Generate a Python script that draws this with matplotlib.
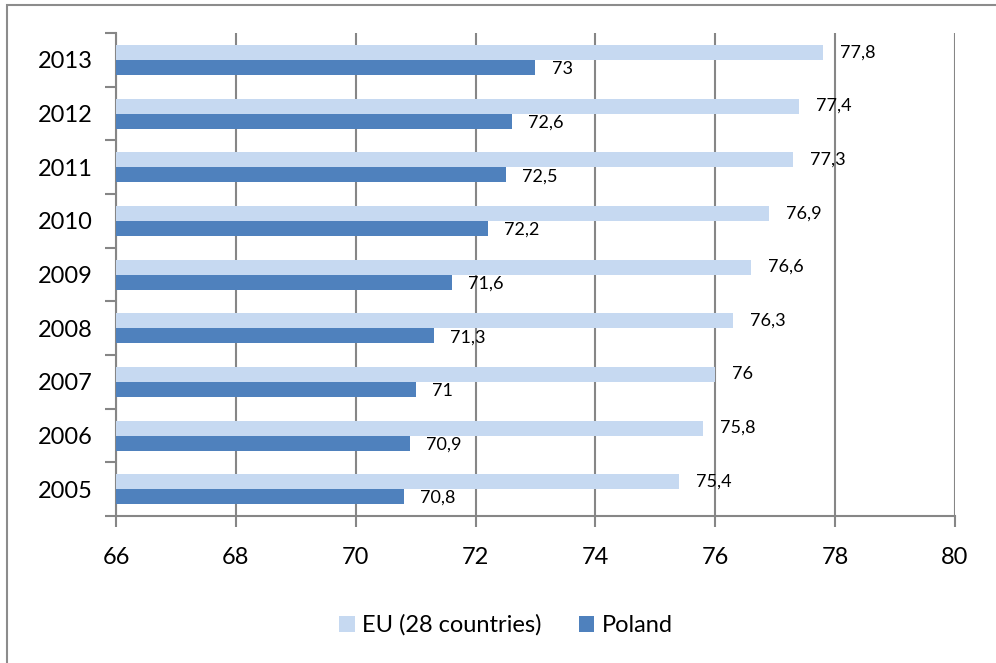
import matplotlib
matplotlib.use("Agg")
import matplotlib.pyplot as plt
from matplotlib.patches import Rectangle
import numpy as np

years = ["2005", "2006", "2007", "2008", "2009", "2010", "2011", "2012", "2013"]
eu_values = [75.4, 75.8, 76.0, 76.3, 76.6, 76.9, 77.3, 77.4, 77.8]
poland_values = [70.8, 70.9, 71.0, 71.3, 71.6, 72.2, 72.5, 72.6, 73.0]
x_ticks = [66, 68, 70, 72, 74, 76, 78, 80]

eu_color = "#C6D9F1"
pl_color = "#4F81BD"
grid_color = "#868686"

plt.rcParams["font.family"] = ["Lato", "DejaVu Sans"]

fig = plt.figure(figsize=(9.96, 6.63), dpi=100)
ax = fig.add_axes([0.1165, 0.2217, 0.8423, 0.7283])

# outer frame of the chart (only its top and left edges fall inside the image)
fig.patches.append(Rectangle((0.007, -0.2), 1.2, 1.192, transform=fig.transFigure,
                             fill=False, edgecolor="#8C8C8C", linewidth=1.5))

y = np.arange(len(years))
h = 0.28
base = 66


def fmt(v):
    s = f"{v:.1f}".replace(".", ",")
    return s[:-2] if s.endswith(",0") else s


eu_bars = ax.barh(y + h / 2, np.array(eu_values) - base, left=base, height=h,
                  color=eu_color, label="EU (28 countries)", zorder=3)
pl_bars = ax.barh(y - h / 2, np.array(poland_values) - base, left=base, height=h,
                  color=pl_color, label="Poland", zorder=3)

for yy, v in zip(y + h / 2, eu_values):
    ax.annotate(fmt(v), (v, yy), xytext=(12, 0), textcoords="offset points",
                va="center", ha="left", fontsize=13, color="black", zorder=4)
for yy, v in zip(y - h / 2, poland_values):
    ax.annotate(fmt(v), (v, yy), xytext=(12, -1), textcoords="offset points",
                va="center", ha="left", fontsize=13, color="black", zorder=4)

ax.set_xlim(66, 80)
ax.set_ylim(-0.5, len(years) - 0.5)
ax.set_xticks(x_ticks)
ax.set_xticklabels([str(t) for t in x_ticks], fontsize=17)
ax.set_yticks(y)
ax.set_yticklabels(years, fontsize=17)
ax.set_yticks(np.arange(-0.5, len(years)), minor=True)
ax.tick_params(axis="y", which="major", length=0, pad=17)
ax.tick_params(axis="y", which="minor", length=8, color=grid_color, width=1.5)
ax.tick_params(axis="x", length=8, color=grid_color, width=1.5, pad=14)

ax.xaxis.grid(True, color=grid_color, linewidth=1.5, zorder=0)
ax.set_axisbelow(True)
for s in ["top", "right"]:
    ax.spines[s].set_visible(False)
for s in ["left", "bottom"]:
    ax.spines[s].set_color(grid_color)
    ax.spines[s].set_linewidth(1.5)

fig.legend(handles=[eu_bars, pl_bars], loc="center", bbox_to_anchor=(0.508, 0.057),
           ncol=2, frameon=False, fontsize=17, handlelength=0.65, handleheight=0.65,
           handletextpad=0.3, columnspacing=1.6)

fig.savefig("out.png", dpi=100)
